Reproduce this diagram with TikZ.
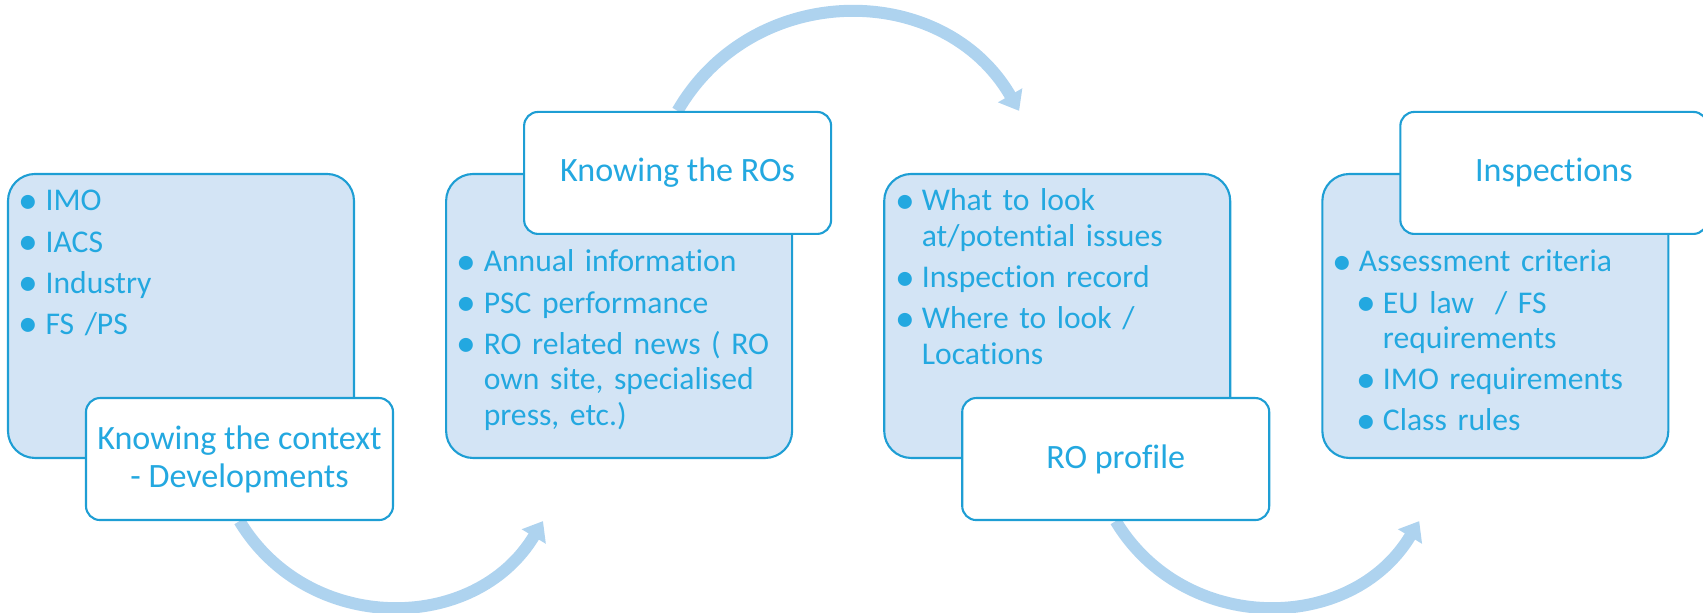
\documentclass[tikz,border=0pt]{standalone}
\usepackage{fontspec}
\setmainfont{Carlito}[Ligatures=CommonOff]
\usetikzlibrary{positioning,calc,arrows.meta,backgrounds}
\definecolor{roText}{RGB}{35,168,224}
\definecolor{roLine}{RGB}{30,158,212}
\definecolor{roFill}{RGB}{211,228,245}
\definecolor{roArrow}{RGB}{174,211,239}
\tikzset{panel/.style={
        draw=roLine,
        line width=0.6pt,
        fill=roFill,
        rounded corners=0.27cm,
        minimum width=3.46cm,
        minimum height=2.84cm,
        inner sep=0pt},
        %
        tag/.style={
            panel,
            fill=white,
            rounded corners=0.14cm,
            minimum width=3.07cm,
            minimum height=1.22cm,
            text=roText,
            align=center,
            font=\fontsize{9.7}{10.8}\selectfont},
        %
        bullets/.style={
            text=roText,
            text width=#1,
            align=left,
            inner sep=0pt,
            anchor=base west,
            font=\fontsize{9}{10.1}\selectfont},
        %
        flow/.style={
            draw=roArrow,
            line width=0.12cm,
            -{Triangle[length=0.18cm,width=0.27cm]}}
        }
\def\gap{0.9cm}
\newcommand\blt{\llap{\makebox[0.34cm][c]{\raisebox{-0.7pt}{\scalebox{1.25}{\textbullet}}}}}
\newcommand\fitm[1]{\blt#1\parskip=1.6pt\relax}
\newcommand\itm[1]{\par\leftskip=0pt\noindent\blt#1\parskip=1.6pt\relax}
\newcommand\subitm[1]{\par\leftskip=0.24cm\noindent\blt#1\parskip=1.6pt\relax}

\begin{document}
\begin{tikzpicture}
\useasboundingbox (0,0) rectangle (17.03,6.13);

\node[panel] (box1) at (1.81,2.97) {};
\node[tag, xshift=0.585cm] (tag1) at (box1.south) {Knowing the context\\- Developments};
\node[bullets=3.1cm] (txt1) at ($(box1.north west)+(0.38,-0.38)$)
    {\fitm{IMO}\itm{IACS}\itm{Industry}\itm{FS /PS}\par};

\node[panel, right=\gap of box1] (box2) {};
\node[tag, xshift=0.585cm] (tag2) at (box2.north) {Knowing the ROs};
\node[bullets=3.1cm] (txt2) at ($(box2.north west)+(0.38,-0.99)$)
    {\fitm{Annual information}\itm{PSC performance}
     \itm{RO related news ( RO\newline own site, specialised\newline press, etc.)}\par};

\node[panel, right=\gap of box2] (box3) {};
\node[tag, xshift=0.585cm] (tag3) at (box3.south) {RO profile};
\node[bullets=3.1cm] (txt3) at ($(box3.north west)+(0.38,-0.38)$)
    {\fitm{What to look\newline at/potential issues}\itm{Inspection record}
     \itm{Where to look /\newline Locations}\par};

\node[panel, right=\gap of box3] (box4) {};
\node[tag, xshift=0.585cm] (tag4) at (box4.north) {Inspections};
\node[bullets=3.1cm] (txt4) at ($(box4.north west)+(0.37,-0.99)$)
    {\fitm{Assessment criteria}\subitm{EU law~ / FS\newline requirements}
     \subitm{IMO requirements}\subitm{Class rules}\par};

\coordinate (end1) at ($(tag1.south)+(3.035,0)$);
\coordinate (end2) at ($(tag2.north)+(3.415,0)$);
\coordinate (end3) at ($(tag3.south)+(3.035,0)$);

\begin{scope}[on background layer]
\draw[flow] (tag1.south) to[out=-59, in=-121, looseness=1.12] (end1);
\draw[flow] (tag2.north) to[out=60, in=120, looseness=1.135] (end2);
\draw[flow] (tag3.south) to[out=-59, in=-121, looseness=1.12] (end3);
\end{scope}
\end{tikzpicture}
\end{document}
